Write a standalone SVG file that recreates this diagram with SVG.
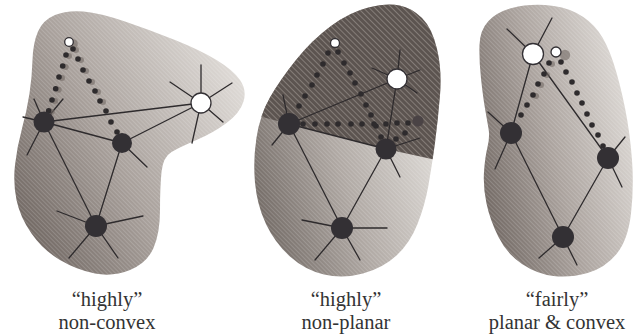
<svg xmlns="http://www.w3.org/2000/svg" width="634" height="335" viewBox="0 0 634 335">
<style>
.edge{stroke:#2e2b2d;stroke-width:1.3;fill:none;stroke-linecap:round}
.blk{fill:#333034}
.wht{fill:#fff;stroke:#333034;stroke-width:1.3}
.dot{fill:#2e2b2d}
.sh{fill:#6f6661;opacity:.55}
.lbl{font-family:"Liberation Serif","Times New Roman",serif;font-size:20.5px;fill:#333;text-anchor:middle}
</style>
<defs>
<linearGradient id="g1" x1="0" y1="0.85" x2="1" y2="0.25">
<stop offset="0" stop-color="#6c635e"/>
<stop offset="0.45" stop-color="#a8a09b"/>
<stop offset="1" stop-color="#e0dcd8"/>
</linearGradient>
<linearGradient id="g2" x1="0" y1="0.9" x2="1" y2="0.45">
<stop offset="0" stop-color="#6a625d"/>
<stop offset="0.5" stop-color="#b0a9a4"/>
<stop offset="1" stop-color="#e2dfdb"/>
</linearGradient>
<linearGradient id="g3" x1="0" y1="0.8" x2="1" y2="0.35">
<stop offset="0" stop-color="#6c635e"/>
<stop offset="0.5" stop-color="#aca49f"/>
<stop offset="1" stop-color="#dedad6"/>
</linearGradient>
<pattern id="hatch" patternUnits="userSpaceOnUse" width="3" height="3" patternTransform="rotate(45)">
<line x1="0" y1="0.5" x2="3" y2="0.5" stroke="#ffffff" stroke-opacity="0.2" stroke-width="0.8"/>
</pattern>
<pattern id="hatchD" patternUnits="userSpaceOnUse" width="4" height="4" patternTransform="rotate(45)">
<line x1="0" y1="0.5" x2="4" y2="0.5" stroke="#a8a09b" stroke-opacity="0.6" stroke-width="0.9"/>
</pattern>
<clipPath id="topcut">
<polygon points="240,0 450,0 450,163 386,149 289,124 240,111"/>
</clipPath>
<path id="shape1" d="M 38,31.5 Q 43,20 55,15 Q 67,10 83.5,11.5 Q 100,13 125,21.5 Q 150,30 175,40 Q 200,50 216.5,60 Q 233,70 240,80 Q 247,90 243.5,101.5 Q 240,113 226.5,123 Q 213,133 196.5,140 Q 180,147 171.5,152 Q 163,157 161.5,172 Q 160,187 160,210 Q 160,233 153.5,248 Q 147,263 130,270 Q 113,277 95,273.5 Q 77,270 60,260 Q 43,250 31.5,233.5 Q 20,217 16.5,200 Q 13,183 15,165 Q 17,147 22,128.5 Q 27,110 29.5,93.5 Q 32,77 32.5,60 Q 33,43 38,31.5 Z"/>
<path id="shape2" d="M 368.5,7.5 Q 350,12 331,26 Q 312,40 296,60 Q 280,80 270,97.5 Q 260,115 256.5,137.5 Q 253,160 255,182.5 Q 257,205 266,224 Q 275,243 290,256.5 Q 305,270 324,274.5 Q 343,279 363,273.5 Q 383,268 396.5,255.5 Q 410,243 417.5,224 Q 425,205 428.5,185 Q 432,165 435,142.5 Q 438,120 440,95 Q 442,70 437,49 Q 432,28 422,18 Q 412,8 399.5,5.5 Q 387,3 368.5,7.5 Z"/>
<path id="shape3" d="M 488.5,21 Q 497,12 512,8 Q 527,4 545,5 Q 563,6 576.5,13 Q 590,20 598.5,31.5 Q 607,43 613.5,63 Q 620,83 625,108 Q 630,133 632,160 Q 634,187 631,213.5 Q 628,240 616.5,254 Q 605,268 587.5,273 Q 570,278 553.5,276 Q 537,274 522,264 Q 507,254 498.5,237 Q 490,220 486.5,203.5 Q 483,187 484,172 Q 485,157 487.5,147 Q 490,137 488.5,128.5 Q 487,120 485,108.5 Q 483,97 481,78.5 Q 479,60 479.5,45 Q 480,30 488.5,21 Z"/>
</defs>

<g id="regions">
<use href="#shape1" fill="url(#g1)"/>
<use href="#shape1" fill="url(#hatch)"/>
<use href="#shape2" fill="url(#g2)"/>
<use href="#shape2" fill="url(#hatch)"/>
<g clip-path="url(#topcut)">
<use href="#shape2" fill="#5c5450"/>
<use href="#shape2" fill="url(#hatchD)"/>
</g>
<use href="#shape3" fill="url(#g3)"/>
<use href="#shape3" fill="url(#hatch)"/>
</g>

<g id="connectors">
<line class="edge" x1="44" y1="122" x2="201" y2="103"/>
<line class="edge" x1="44" y1="122" x2="122" y2="143"/>
<line class="edge" x1="122" y1="143" x2="201" y2="103"/>
<line class="edge" x1="44" y1="122" x2="96" y2="226"/>
<line class="edge" x1="122" y1="143" x2="96" y2="226"/>
<line class="edge" x1="44" y1="122" x2="34" y2="99"/>
<line class="edge" x1="44" y1="122" x2="63" y2="99"/>
<line class="edge" x1="44" y1="122" x2="23" y2="117"/>
<line class="edge" x1="44" y1="122" x2="27" y2="155"/>
<line class="edge" x1="122" y1="143" x2="147" y2="167"/>
<line class="edge" x1="96" y1="226" x2="57" y2="211"/>
<line class="edge" x1="96" y1="226" x2="143" y2="216"/>
<line class="edge" x1="96" y1="226" x2="69" y2="258"/>
<line class="edge" x1="96" y1="226" x2="118" y2="258"/>
<line class="edge" x1="201" y1="103" x2="201" y2="65"/>
<line class="edge" x1="201" y1="103" x2="170" y2="82"/>
<line class="edge" x1="201" y1="103" x2="232" y2="83"/>
<line class="edge" x1="201" y1="103" x2="223" y2="122"/>
<line class="edge" x1="201" y1="103" x2="192" y2="143"/>
<line class="edge" x1="289" y1="124" x2="397" y2="79"/>
<line class="edge" x1="289" y1="124" x2="386" y2="149"/>
<line class="edge" x1="289" y1="124" x2="342" y2="228"/>
<line class="edge" x1="386" y1="149" x2="342" y2="228"/>
<line class="edge" x1="397" y1="79" x2="386" y2="149"/>
<line class="edge" x1="289" y1="124" x2="283" y2="95"/>
<line class="edge" x1="289" y1="124" x2="272" y2="145"/>
<line class="edge" x1="386" y1="149" x2="420" y2="138"/>
<line class="edge" x1="386" y1="149" x2="400" y2="177"/>
<line class="edge" x1="397" y1="79" x2="400" y2="50"/>
<line class="edge" x1="397" y1="79" x2="372" y2="68"/>
<line class="edge" x1="397" y1="79" x2="420" y2="70"/>
<line class="edge" x1="397" y1="79" x2="417" y2="93"/>
<line class="edge" x1="342" y1="228" x2="302" y2="220"/>
<line class="edge" x1="342" y1="228" x2="387" y2="228"/>
<line class="edge" x1="342" y1="228" x2="315" y2="260"/>
<line class="edge" x1="342" y1="228" x2="360" y2="260"/>
<line class="edge" x1="533" y1="54" x2="511" y2="133"/>
<line class="edge" x1="533" y1="54" x2="608" y2="158"/>
<line class="edge" x1="511" y1="133" x2="563" y2="237"/>
<line class="edge" x1="608" y1="158" x2="563" y2="237"/>
<line class="edge" x1="533" y1="54" x2="507" y2="29"/>
<line class="edge" x1="533" y1="54" x2="552" y2="18"/>
<line class="edge" x1="511" y1="133" x2="488" y2="112"/>
<line class="edge" x1="511" y1="133" x2="495" y2="169"/>
<line class="edge" x1="608" y1="158" x2="625" y2="137"/>
<line class="edge" x1="608" y1="158" x2="622" y2="187"/>
<line class="edge" x1="563" y1="237" x2="539" y2="258"/>
<line class="edge" x1="563" y1="237" x2="577" y2="265"/>
</g>

<g id="dotted-chains">
<g class="sh">
<circle cx="73" cy="44" r="4.8"/>
<circle cx="69" cy="56" r="3"/><circle cx="65.7" cy="67" r="3"/><circle cx="62" cy="78" r="3"/><circle cx="58.7" cy="89.7" r="3"/><circle cx="55" cy="101" r="3"/><circle cx="51.7" cy="111.7" r="3"/>
<circle cx="76" cy="50" r="3"/><circle cx="81" cy="60" r="3"/><circle cx="86" cy="71" r="3"/><circle cx="92" cy="82" r="3"/><circle cx="98" cy="92" r="3"/><circle cx="103" cy="102" r="3"/>
<circle cx="565" cy="55" r="5.2"/>
<circle cx="552" cy="64" r="3"/><circle cx="547" cy="75" r="3"/><circle cx="541" cy="85" r="3"/><circle cx="536" cy="96" r="3"/>
</g>
<g class="dot">
<circle cx="66" cy="55" r="2.8"/><circle cx="62.7" cy="66" r="2.8"/><circle cx="59" cy="77" r="2.8"/><circle cx="55.7" cy="88.7" r="2.8"/><circle cx="52" cy="100" r="2.8"/><circle cx="48.7" cy="110.7" r="2.8"/>
<circle cx="73" cy="49" r="2.8"/><circle cx="78" cy="59" r="2.8"/><circle cx="83" cy="70" r="2.8"/><circle cx="89" cy="81" r="2.8"/><circle cx="95" cy="91" r="2.8"/><circle cx="100" cy="101" r="2.8"/><circle cx="106" cy="111" r="2.8"/><circle cx="111" cy="122" r="2.8"/><circle cx="117" cy="132" r="2.8"/>
<circle cx="328" cy="53" r="2.8"/><circle cx="323" cy="64" r="2.8"/><circle cx="317" cy="75" r="2.8"/><circle cx="312" cy="85" r="2.8"/><circle cx="305" cy="96" r="2.8"/><circle cx="299" cy="106" r="2.8"/>
<circle cx="338" cy="52" r="2.8"/><circle cx="344" cy="63" r="2.8"/><circle cx="350" cy="73" r="2.8"/><circle cx="355" cy="83" r="2.8"/><circle cx="361" cy="94" r="2.8"/><circle cx="366" cy="105" r="2.8"/><circle cx="371" cy="115" r="2.8"/><circle cx="376" cy="126" r="2.8"/><circle cx="381" cy="137" r="2.8"/>
<circle cx="303" cy="124" r="2.8"/><circle cx="315" cy="124" r="2.8"/><circle cx="327" cy="124" r="2.8"/><circle cx="338" cy="124" r="2.8"/><circle cx="351" cy="124" r="2.8"/><circle cx="362" cy="124" r="2.8"/><circle cx="374" cy="124" r="2.8"/><circle cx="386" cy="124" r="2.8"/><circle cx="397" cy="123" r="2.8"/><circle cx="408" cy="123" r="2.8"/>
<circle cx="405" cy="133" r="2.8"/><circle cx="396" cy="139" r="2.8"/>
<circle cx="549" cy="63" r="2.8"/><circle cx="544" cy="74" r="2.8"/><circle cx="538" cy="84" r="2.8"/><circle cx="533" cy="95" r="2.8"/><circle cx="527" cy="105" r="2.8"/><circle cx="521" cy="115" r="2.8"/>
<circle cx="561" cy="62" r="2.8"/><circle cx="566" cy="72" r="2.8"/><circle cx="572" cy="82" r="2.8"/><circle cx="577" cy="93" r="2.8"/><circle cx="582" cy="103" r="2.8"/><circle cx="587" cy="114" r="2.8"/><circle cx="592" cy="125" r="2.8"/><circle cx="598" cy="135" r="2.8"/><circle cx="603" cy="146" r="2.8"/>
</g>
</g>

<g id="n1-s"><circle class="wht" cx="69" cy="42" r="4.3"/></g>
<g id="n1-a"><circle class="blk" cx="44" cy="122" r="10.5"/></g>
<g id="n1-b"><circle class="blk" cx="122" cy="143" r="10"/></g>
<g id="n1-c"><circle class="blk" cx="96" cy="226" r="11"/></g>
<g id="n1-w"><circle class="wht" cx="201" cy="103" r="10"/></g>

<g id="n2-s"><circle class="wht" cx="335" cy="43" r="4.5"/></g>
<g id="n2-w"><circle class="wht" cx="397" cy="79" r="10"/></g>
<g id="n2-a"><circle class="blk" cx="289" cy="124" r="11"/></g>
<g id="n2-b"><circle class="blk" cx="386" cy="149" r="10.5"/></g>
<g id="n2-c"><circle class="blk" cx="342" cy="228" r="11"/></g>
<g id="n2-d"><circle cx="418" cy="121" r="5.5" fill="#4a4345"/></g>

<g id="n3-w"><circle class="wht" cx="533" cy="54" r="10.5"/></g>
<g id="n3-s"><circle class="wht" cx="556" cy="52" r="5"/></g>
<g id="n3-a"><circle class="blk" cx="511" cy="133" r="11"/></g>
<g id="n3-b"><circle class="blk" cx="608" cy="158" r="11"/></g>
<g id="n3-c"><circle class="blk" cx="563" cy="237" r="11"/></g>

<g id="labels">
<text class="lbl" x="107" y="305.5">“highly”</text>
<text class="lbl" x="107" y="328.5">non-convex</text>
<text class="lbl" x="346" y="305.5">“highly”</text>
<text class="lbl" x="346" y="328.5">non-planar</text>
<text class="lbl" x="557" y="305.5">“fairly”</text>
<text class="lbl" x="557" y="328.5">planar &amp; convex</text>
</g>
</svg>
